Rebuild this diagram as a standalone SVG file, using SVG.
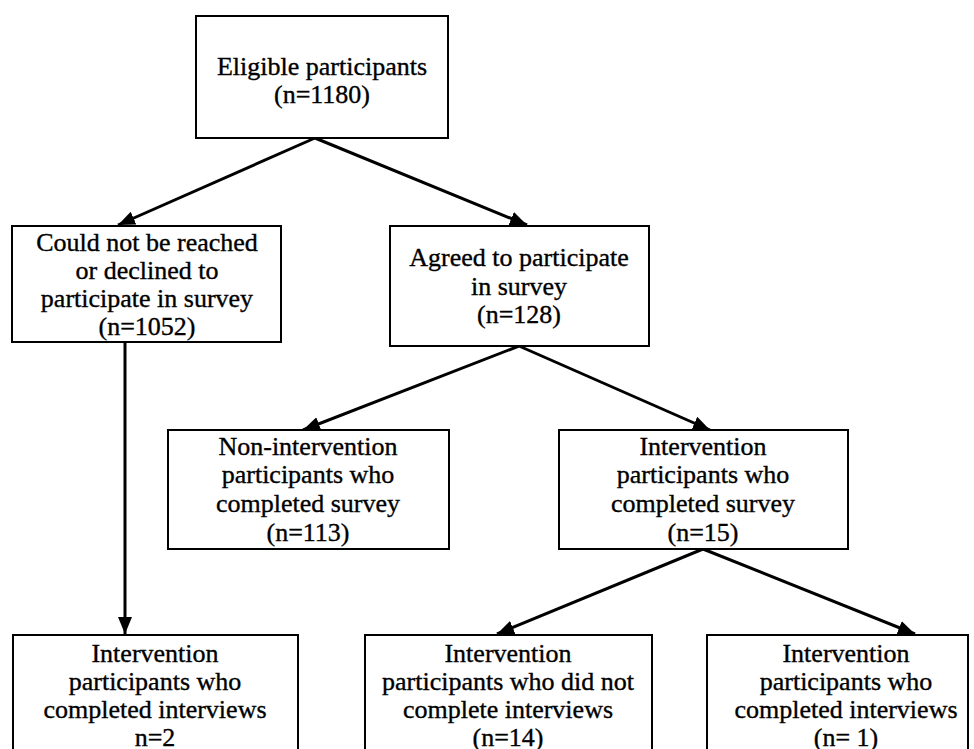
<svg xmlns="http://www.w3.org/2000/svg" width="974" height="749" viewBox="0 0 974 749">
  <style>
    .box { fill: #ffffff; stroke: #000000; stroke-width: 2; }
    .lbl { font-family: "Liberation Serif", "DejaVu Serif", serif; font-size: 26px; fill: #000000; stroke: #000000; stroke-width: 0.35; text-anchor: middle; }
    .edge { stroke: #000000; stroke-width: 3; fill: none; marker-end: url(#head); }
  </style>
  <defs>
    <marker id="head" markerUnits="userSpaceOnUse" markerWidth="18" markerHeight="14" refX="17" refY="7" orient="auto">
      <path d="M0,0 L17,7 L0,14 z" fill="#000000"/>
    </marker>
  </defs>
  <rect width="974" height="749" fill="#ffffff"/>

  <g id="connectors">
    <line class="edge" x1="315" y1="138" x2="118" y2="225"/>
    <line class="edge" x1="315" y1="138" x2="527" y2="225"/>
    <line class="edge" x1="125" y1="342" x2="125" y2="634"/>
    <line class="edge" x1="519" y1="346" x2="303" y2="430"/>
    <line class="edge" x1="519" y1="346" x2="710" y2="430"/>
    <line class="edge" x1="703" y1="549" x2="497" y2="634"/>
    <line class="edge" x1="703" y1="549" x2="915" y2="634"/>
  </g>

  <g id="eligible">
    <rect class="box" x="196" y="16" width="252" height="122"/>
    <text class="lbl" x="322" y="75">Eligible participants</text>
    <text class="lbl" x="322" y="103">(n=1180)</text>
  </g>

  <g id="not-reached">
    <rect class="box" x="12" y="226" width="269" height="116"/>
    <text class="lbl" x="147" y="251">Could not be reached</text>
    <text class="lbl" x="147" y="279">or declined to</text>
    <text class="lbl" x="147" y="307">participate in survey</text>
    <text class="lbl" x="147" y="335">(n=1052)</text>
  </g>

  <g id="agreed">
    <rect class="box" x="390" y="226" width="259" height="120"/>
    <text class="lbl" x="519" y="266">Agreed to participate</text>
    <text class="lbl" x="519" y="295">in survey</text>
    <text class="lbl" x="519" y="323">(n=128)</text>
  </g>

  <g id="non-intervention">
    <rect class="box" x="168" y="430" width="281" height="119"/>
    <text class="lbl" x="308" y="455">Non-intervention</text>
    <text class="lbl" x="308" y="483">participants who</text>
    <text class="lbl" x="308" y="512">completed survey</text>
    <text class="lbl" x="308" y="541">(n=113)</text>
  </g>

  <g id="intervention-survey">
    <rect class="box" x="559" y="430" width="289" height="119"/>
    <text class="lbl" x="703" y="455">Intervention</text>
    <text class="lbl" x="703" y="483">participants who</text>
    <text class="lbl" x="703" y="512">completed survey</text>
    <text class="lbl" x="703" y="541">(n=15)</text>
  </g>

  <g id="interviews-left">
    <rect class="box" x="13" y="635" width="285" height="130"/>
    <text class="lbl" x="155" y="662">Intervention</text>
    <text class="lbl" x="155" y="690">participants who</text>
    <text class="lbl" x="155" y="718">completed interviews</text>
    <text class="lbl" x="155" y="746">n=2</text>
  </g>

  <g id="interviews-not-completed">
    <rect class="box" x="365" y="635" width="287" height="130"/>
    <text class="lbl" x="508" y="662">Intervention</text>
    <text class="lbl" x="508" y="690">participants who did not</text>
    <text class="lbl" x="508" y="718">complete interviews</text>
    <text class="lbl" x="508" y="746">(n=14)</text>
  </g>

  <g id="interviews-completed">
    <rect class="box" x="707" y="635" width="261" height="130"/>
    <text class="lbl" x="846" y="662">Intervention</text>
    <text class="lbl" x="846" y="690">participants who</text>
    <text class="lbl" x="846" y="718">completed interviews</text>
    <text class="lbl" x="846" y="746">(n= 1)</text>
  </g>
</svg>
